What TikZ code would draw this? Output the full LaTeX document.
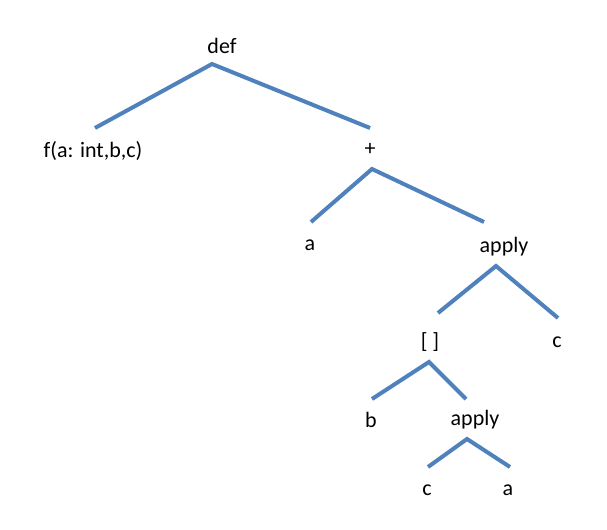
\documentclass[tikz,border=0pt]{standalone}
\usepackage{fontspec}
\setmainfont{Carlito}
\usepackage{tikz}
\definecolor{branchblue}{HTML}{4F81BD}

\begin{document}
\begin{tikzpicture}[x=0.75pt, y=-0.75pt,
	label/.style={inner sep=0pt, font=\fontsize{16.5}{20}\selectfont},
	branch/.style={branchblue, line width=3pt}]
	\useasboundingbox (0, 0) rectangle (607, 530);

	% labels
	\node[label] (def) at (222, 46) {def};
	\node[label] (fargs) at (93, 151) {f(a: int,b,c)};
	\node[label] (plus) at (370, 149) {+};
	\node[label] (a1) at (310, 245) {a};
	\node[label] (apply1) at (504, 247) {apply};
	\node[label] (brk) at (430, 342) {[ ]};
	\node[label] (c1) at (557, 342) {c};
	\node[label] (b) at (371, 420) {b};
	\node[label] (apply2) at (475, 420) {apply};
	\node[label] (c2) at (427, 490) {c};
	\node[label] (a2) at (508, 490) {a};

	% branch ends
	\coordinate (def-top) at (212, 64);
	\coordinate (fargs-end) at (95, 128);
	\coordinate (plus-end) at (370, 128);
	\coordinate (plus-top) at (372, 169);
	\coordinate (a1-end) at (311, 222);
	\coordinate (apply1-end) at (484, 222);
	\coordinate (apply1-top) at (496, 266);
	\coordinate (brk-end) at (438, 313);
	\coordinate (c1-end) at (558, 318);
	\coordinate (brk-top) at (429, 362);
	\coordinate (b-end) at (372, 399);
	\coordinate (apply2-end) at (466, 399);
	\coordinate (apply2-top) at (467, 439);
	\coordinate (c2-end) at (428, 467);
	\coordinate (a2-end) at (510, 467);

	\draw[branch] (fargs-end) -- (def-top) -- (plus-end);
	\draw[branch] (a1-end) -- (plus-top) -- (apply1-end);
	\draw[branch] (brk-end) -- (apply1-top) -- (c1-end);
	\draw[branch] (b-end) -- (brk-top) -- (apply2-end);
	\draw[branch] (c2-end) -- (apply2-top) -- (a2-end);
\end{tikzpicture}
\end{document}
